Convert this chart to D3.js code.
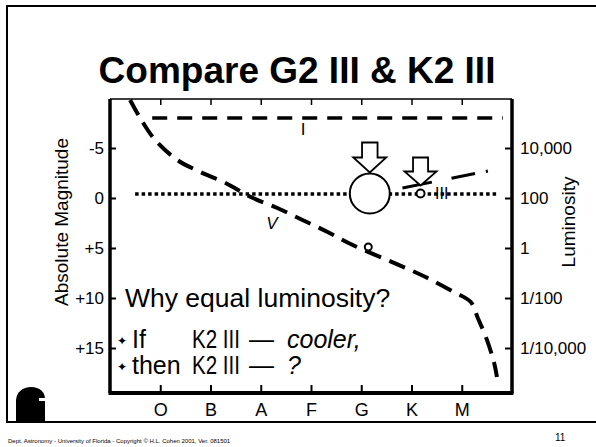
<!DOCTYPE html>
<html>
<head>
<meta charset="utf-8">
<script src="https://cdn.jsdelivr.net/npm/d3@7"></script>
<style>
  body { margin: 0; background: #fff; }
  svg { display: block; font-family: "Liberation Sans", Arial, sans-serif; }
</style>
</head>
<body>
<script>
// Spectral classes along the bottom
const classes = ["O", "B", "A", "F", "G", "K", "M"];

// Left axis: absolute magnitude
const magTicks = [-5, 0, 5, 10, 15];
const magLabels = ["-5", "0", "+5", "+10", "+15"];

// Right axis: luminosity (sun = 1)
const lumTicks = [10000, 100, 1, 0.01, 0.0001];
const lumLabels = ["10,000", "100", "1", "1/100", "1/10,000"];

// Main sequence (V): spectral position (O=0 ... M=6), absolute magnitude
const msType = [-0.6, -0.4, -0.1, 0.34, 0.8, 1.3, 1.8, 2.33, 2.83, 3.33, 3.83, 4.52, 4.98, 5.32, 5.84, 6.18, 6.32, 6.48, 6.64, 6.7];
const msMag  = [-9.8, -8, -5.8, -3.8, -2.6, -1.5, -0.1, 1.0, 2.2, 3.4, 4.7, 6.2, 7.2, 8.0, 9.4, 10.4, 12, 13.9, 16.4, 17.9];

// Supergiants (I), giant level line, giant branch (III)
const superType = [-0.16, 6.82], superMag = [-8, -8];
const giantLevelType = [-0.5, 6.72], giantLevelMag = [-0.4, -0.4];
const giantType = [4.82, 6.52], giantMag = [-1.0, -2.7];

// Stars: G2 III, K2 III, Sun (G2 V)
const starNames = ["G2 III", "K2 III", "Sun"];
const starType = [4.17, 5.18, 4.14];
const starMag = [-0.45, -0.45, 4.9];
const starRadius = [20, 4, 3.5];

const W = 596, H = 447;
const svg = d3.select("body").append("svg")
    .attr("width", W)
    .attr("height", H);

// slide frame
svg.append("path")
    .attr("d", "M596,6 H7 V422 H596")
    .attr("fill", "none")
    .attr("stroke", "#000")
    .attr("stroke-width", 2);

// title
svg.append("text")
    .attr("x", 297).attr("y", 83)
    .attr("text-anchor", "middle")
    .attr("font-size", 37)
    .attr("font-weight", "bold")
    .text("Compare G2 III & K2 III");

// plot area
const pLeft = 110, pRight = 512, pTop = 99, pBottom = 393;

const x = d3.scaleLinear().domain([-1, 7]).range([pLeft, pRight]);
const y = d3.scaleLinear().domain([-9.9, 19.5]).range([pTop, pBottom]);
const xClass = d3.scalePoint().domain(classes).range([x(0), x(6)]);
// L = 10^(2 - 0.4 M)
const yLum = d3.scaleLog()
    .domain(y.domain().map(m => Math.pow(10, 2 - 0.4 * m)))
    .range([pTop, pBottom]);

// top line (thin) with small ticks
svg.append("g")
    .attr("transform", `translate(0,${pTop})`)
    .call(d3.axisTop(xClass).tickSizeInner(-6).tickSizeOuter(0).tickFormat(""))
    .call(g => g.select(".domain").attr("d", `M${pLeft},0H${pRight}`).attr("stroke-width", 1.5))
    .call(g => g.selectAll(".tick line").attr("stroke-width", 1.5));

// bottom axis
svg.append("g")
    .attr("transform", `translate(0,${pBottom})`)
    .call(d3.axisBottom(xClass).tickSizeInner(-8).tickSizeOuter(0).tickPadding(10))
    .call(g => g.select(".domain").attr("d", `M${pLeft - 1.5},0H${pRight + 1.5}`).attr("stroke-width", 4))
    .call(g => g.selectAll(".tick line").attr("stroke-width", 2))
    .call(g => g.selectAll("text").attr("font-size", 18).attr("font-family", null).attr("fill", "#000"));

// left axis
svg.append("g")
    .attr("transform", `translate(${pLeft},0)`)
    .call(d3.axisLeft(y).tickValues(magTicks).tickFormat((d, i) => magLabels[i])
        .tickSizeInner(-6).tickSizeOuter(0).tickPadding(6))
    .call(g => g.select(".domain").attr("d", `M0,${pTop}V${pBottom}`).attr("stroke-width", 3.5))
    .call(g => g.selectAll(".tick line").attr("stroke-width", 2))
    .call(g => g.selectAll("text").attr("font-size", 17).attr("font-family", null).attr("fill", "#000"));

// right axis
svg.append("g")
    .attr("transform", `translate(${pRight},0)`)
    .call(d3.axisRight(yLum).tickValues(lumTicks).tickFormat((d, i) => lumLabels[i])
        .tickSizeInner(-7).tickSizeOuter(0).tickPadding(8))
    .call(g => g.select(".domain").attr("d", `M0,${pTop}V${pBottom}`).attr("stroke-width", 3.5))
    .call(g => g.selectAll(".tick line").attr("stroke-width", 2))
    .call(g => g.selectAll("text").attr("font-size", 17).attr("font-family", null).attr("fill", "#000"));

// axis titles
svg.append("text")
    .attr("transform", `translate(68,${(pTop + pBottom) / 2 - 24}) rotate(-90)`)
    .attr("text-anchor", "middle")
    .attr("font-size", 19)
    .text("Absolute Magnitude");

svg.append("text")
    .attr("transform", `translate(575,${(pTop + pBottom) / 2 - 24}) rotate(-90)`)
    .attr("text-anchor", "middle")
    .attr("font-size", 19)
    .text("Luminosity");

const line = d3.line().x(d => x(d[0])).y(d => y(d[1]));

// supergiants
svg.append("path")
    .attr("d", line(d3.zip(superType, superMag)))
    .attr("fill", "none").attr("stroke", "#000")
    .attr("stroke-width", 3.5).attr("stroke-dasharray", "15,10");

svg.append("text")
    .attr("x", 303).attr("y", 135)
    .attr("text-anchor", "middle").attr("font-size", 17)
    .text("I");

// giant level (dotted)
svg.append("path")
    .attr("d", line(d3.zip(giantLevelType, giantLevelMag)))
    .attr("fill", "none").attr("stroke", "#000")
    .attr("stroke-width", 3.5).attr("stroke-dasharray", "3.5,3");

// main sequence
svg.append("path")
    .attr("d", d3.line().x(d => x(d[0])).y(d => y(d[1])).curve(d3.curveCatmullRom)(d3.zip(msType, msMag)))
    .attr("fill", "none").attr("stroke", "#000")
    .attr("stroke-width", 4).attr("stroke-dasharray", "17,9");

svg.append("text")
    .attr("x", 272).attr("y", 229)
    .attr("text-anchor", "middle").attr("font-size", 17)
    .attr("font-style", "italic")
    .text("V");

// giant branch
svg.append("path")
    .attr("d", line(d3.zip(giantType, giantMag)))
    .attr("fill", "none").attr("stroke", "#000")
    .attr("stroke-width", 3).attr("stroke-dasharray", "30,20,24,11,3");

svg.append("text")
    .attr("x", 435).attr("y", 199)
    .attr("font-size", 16)
    .text("III");

// stars
const stars = starNames.map((n, i) => ({name: n, t: starType[i], m: starMag[i], r: starRadius[i]}));

svg.selectAll("circle.star")
  .data(stars)
  .enter().append("circle")
    .attr("class", "star")
    .attr("cx", d => x(d.t))
    .attr("cy", d => y(d.m))
    .attr("r", d => d.r)
    .attr("fill", "#fff")
    .attr("stroke", "#000")
    .attr("stroke-width", 2);

// hollow arrows pointing at the two giants
const arrowShape = (w, h) => {
  const sw = w * 0.47, hh = h * 0.5;
  return `M${-sw / 2},${-h} H${sw / 2} V${-hh} H${w / 2} L0,0 L${-w / 2},${-hh} H${-sw / 2} Z`;
};
const arrowSize = [[33, 30], [32, 28]];

svg.selectAll("path.arrow")
  .data(stars.slice(0, 2))
  .enter().append("path")
    .attr("class", "arrow")
    .attr("transform", d => `translate(${x(d.t)},${y(d.m) - d.r - (d.r > 10 ? 1 : 4)})`)
    .attr("d", (d, i) => arrowShape(arrowSize[i][0], arrowSize[i][1]))
    .attr("fill", "#fff")
    .attr("stroke", "#000")
    .attr("stroke-width", 1.8)
    .attr("stroke-linejoin", "miter");

// body text
svg.append("text")
    .attr("x", 125).attr("y", 307)
    .attr("font-size", 26.5)
    .text("Why equal luminosity?");

const bulletRows = [
  {y: 348, a: "If", b: "K2 III", c: "cooler,"},
  {y: 374, a: "then", b: "K2 III", c: "?"}
];
const rows = svg.selectAll("g.row")
  .data(bulletRows)
  .enter().append("g")
    .attr("class", "row")
    .attr("font-size", 25);

rows.append("text").attr("x", 117).attr("y", d => d.y - 3).attr("font-size", 12)
    .attr("font-family", "DejaVu Sans").text("\u2726");
rows.append("text").attr("x", 132).attr("y", d => d.y).text(d => d.a);
rows.append("text").attr("x", 192).attr("y", d => d.y)
    .attr("textLength", 48).attr("lengthAdjust", "spacingAndGlyphs").text(d => d.b);
rows.append("text").attr("x", 249).attr("y", d => d.y).text("\u2014");
rows.append("text").attr("x", 287).attr("y", d => d.y)
    .attr("font-style", "italic").text(d => d.c);

// logo blob
svg.append("path")
    .attr("d", "M16,421 L16,401 C16,392 23,387 31,387 C40,387 45,392 45,399 L45,421 Z")
    .attr("fill", "#000");
svg.append("path")
    .attr("d", "M39,398 h6 v3 h-6 Z")
    .attr("fill", "#fff");

// footer
svg.append("text")
    .attr("x", 8).attr("y", 443)
    .attr("font-size", 6)
    .text("Dept. Astronomy   - University of Florida  - Copyright \u00a9 H.L. Cohen 2001, Ver. 081501");

svg.append("text")
    .attr("x", 555).attr("y", 441)
    .attr("font-size", 10)
    .text("11");
</script>
</body>
</html>
